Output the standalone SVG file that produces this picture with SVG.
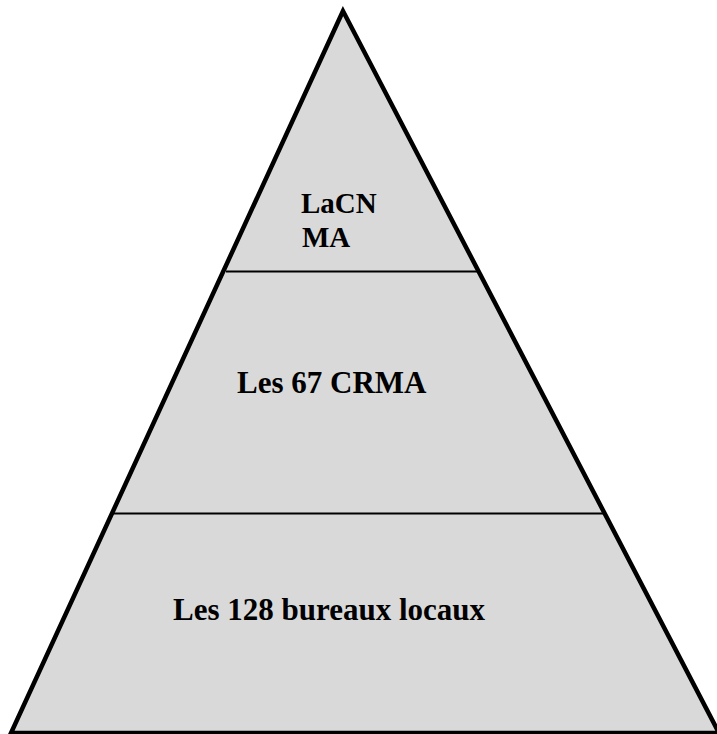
<svg xmlns="http://www.w3.org/2000/svg" width="717" height="734" viewBox="0 0 717 734">
<style>
.t{font-family:"Liberation Serif","Times New Roman",serif;font-weight:bold;font-size:31px;fill:#000}
.s{font-size:29px}
.div{stroke:#000;stroke-width:2;fill:none}
</style>
<rect width="717" height="734" fill="#fff"/>
<g id="pyramid">
<polygon points="343,11 11,733 719,733" fill="#d9d9d9" stroke="#000" stroke-width="4.5" stroke-linejoin="miter"/>
</g>
<g id="connectors">
<line class="div" x1="226" y1="271.5" x2="480" y2="271.5"/>
<line class="div" x1="113" y1="513.5" x2="605" y2="513.5"/>
</g>
<g id="top">
<text class="t s" x="301" y="213">LaCN</text>
<text class="t s" x="302" y="247">MA</text>
</g>
<g id="middle">
<text class="t" x="237" y="393">Les 67 CRMA</text>
</g>
<g id="bottom">
<text class="t" x="173" y="620">Les 128 bureaux locaux</text>
</g>
</svg>
